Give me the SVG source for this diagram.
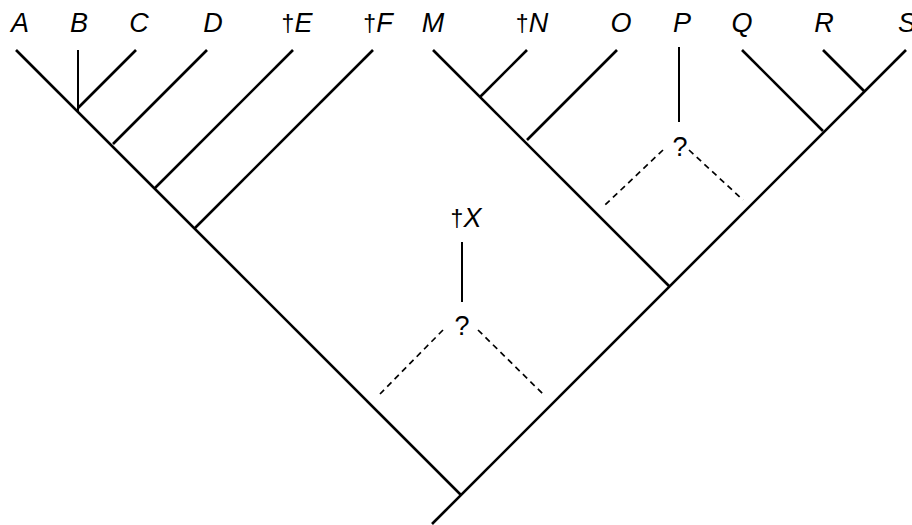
<svg xmlns="http://www.w3.org/2000/svg" width="912" height="525" viewBox="0 0 912 525">
<style>
.l{stroke:#000;stroke-width:2.6;fill:none;stroke-linecap:butt}
.v{stroke:#000;stroke-width:2;fill:none}
.d{stroke:#000;stroke-width:1.7;fill:none;stroke-dasharray:6,4.5}
text{font-family:"Liberation Sans",Arial,sans-serif;font-size:27px;font-style:italic;fill:#000;text-anchor:middle}
.q{font-style:normal;font-size:27px}
.dg{font-style:normal;font-size:23px}
</style>
<rect width="912" height="525" fill="#fff"/>
<g id="connectors">
<line class="l" x1="16" y1="50" x2="461" y2="495"/>
<line class="l" x1="906" y1="50" x2="432" y2="524"/>
<line class="v" x1="78" y1="50" x2="78" y2="112"/>
<line class="l" x1="136" y1="50" x2="78" y2="108"/>
<line class="l" x1="207" y1="50" x2="113" y2="144"/>
<line class="l" x1="293" y1="50" x2="155" y2="188"/>
<line class="l" x1="373" y1="50" x2="195" y2="228"/>
<line class="l" x1="433" y1="50" x2="669.5" y2="286.5"/>
<line class="l" x1="527" y1="50" x2="480" y2="97"/>
<line class="l" x1="617" y1="50" x2="527" y2="140"/>
<line class="v" x1="679" y1="47" x2="679" y2="122"/>
<line class="d" x1="663" y1="150" x2="605" y2="205"/>
<line class="d" x1="689" y1="150" x2="743" y2="200"/>
<line class="l" x1="742" y1="50" x2="823" y2="131"/>
<line class="l" x1="823" y1="50" x2="865" y2="92"/>
<line class="v" x1="462" y1="242" x2="462" y2="302"/>
<line class="d" x1="443" y1="330" x2="380" y2="394"/>
<line class="d" x1="478" y1="330" x2="543" y2="394"/>
</g>
<g id="node-A"><text x="20" y="32">A</text></g>
<g id="node-B"><text x="79" y="32">B</text></g>
<g id="node-C"><text x="139" y="32">C</text></g>
<g id="node-D"><text x="213" y="32">D</text></g>
<g id="node-E"><text x="297" y="32"><tspan class="dg">†</tspan>E</text></g>
<g id="node-F"><text x="378" y="32"><tspan class="dg">†</tspan>F</text></g>
<g id="node-M"><text x="433" y="32">M</text></g>
<g id="node-N"><text x="532" y="32"><tspan class="dg">†</tspan>N</text></g>
<g id="node-O"><text x="621" y="32">O</text></g>
<g id="node-P"><text x="682" y="32">P</text></g>
<g id="node-Q"><text x="742" y="32">Q</text></g>
<g id="node-R"><text x="824" y="32">R</text></g>
<g id="node-S"><text x="907" y="32">S</text></g>
<g id="node-X"><text x="466" y="227"><tspan class="dg">†</tspan>X</text></g>
<g id="node-q1"><text class="q" x="680" y="156">?</text></g>
<g id="node-q2"><text class="q" x="462" y="335">?</text></g>
</svg>
